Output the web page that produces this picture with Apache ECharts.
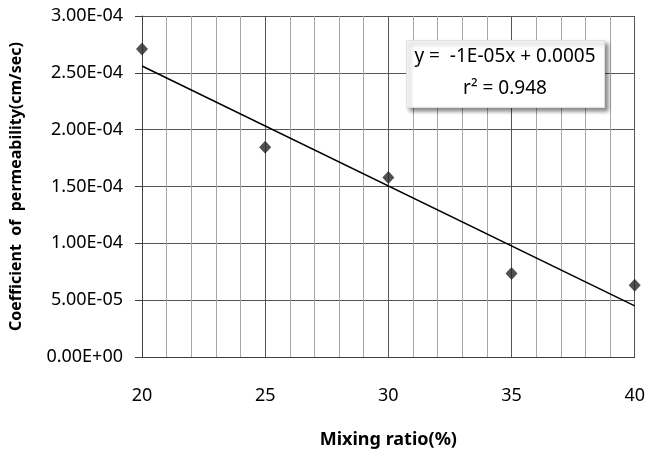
<!DOCTYPE html>
<html>
<head>
<meta charset="utf-8">
<script src="https://cdn.jsdelivr.net/npm/echarts@6/dist/echarts.min.js"></script>
<style>
  html, body { margin: 0; padding: 0; background: #fff; }
  #chart { width: 648px; height: 456px; }
</style>
</head>
<body>
<div id="chart"></div>
<script>
// mixing ratio (%) vs coefficient of permeability (cm/sec)
const ratios = [20, 25, 30, 35, 40];
const permeability = [2.71e-4, 1.846e-4, 1.58e-4, 7.34e-5, 6.31e-5];

// linear trend line
const trendX = [20, 40];
const trendY = [2.56e-4, 4.5e-5];

const eqText = "y =  -1E-05x + 0.0005";
const r2Text = "r² = 0.948";

const font = "'Noto Sans', sans-serif";

const fmtExp = (v) => {
  if (v === 0) return "0.00E+00";
  const [m, e] = v.toExponential(2).split("e");
  const n = parseInt(e, 10);
  const sign = n < 0 ? "-" : "+";
  return m + "E" + sign + String(Math.abs(n)).padStart(2, "0");
};

const chart = echarts.init(document.getElementById("chart"));

const option = {
  animation: false,
  grid: { left: 141, right: 11, top: 16, bottom: 99, containLabel: false },
  xAxis: {
    type: "value",
    min: 20,
    max: 40,
    interval: 5,
    name: "Mixing ratio(%)",
    nameLocation: "middle",
    nameGap: 74,
    nameTextStyle: { fontFamily: font, fontSize: 18, fontWeight: "bold", color: "#000" },
    axisLine: { show: true, lineStyle: { color: "#404040", width: 1 } },
    axisTick: { show: false },
    axisLabel: { fontFamily: font, fontSize: 18, color: "#000", margin: 30 },
    splitLine: { show: true, lineStyle: { color: "#555", width: 1 } },
    minorTick: { show: false, splitNumber: 5 },
    minorSplitLine: { show: true, lineStyle: { color: "#a6a6a6", width: 1 } },
  },
  yAxis: {
    type: "value",
    min: 0,
    max: 3e-4,
    interval: 5e-5,
    name: "Coefficient  of  permeability(cm/sec)",
    nameLocation: "middle",
    nameGap: 118,
    nameTextStyle: { fontFamily: font, fontSize: 16, fontWeight: "bold", color: "#000" },
    axisLine: { show: true, lineStyle: { color: "#404040", width: 1 } },
    axisTick: { show: true, inside: false, length: 7, lineStyle: { color: "#404040" } },
    axisLabel: { fontFamily: font, fontSize: 18, color: "#000", margin: 19, formatter: fmtExp },
    splitLine: { show: true, lineStyle: { color: "#555", width: 1 } },
  },
  series: [
    {
      name: "trend",
      type: "line",
      data: trendX.map((x, i) => [x, trendY[i]]),
      symbol: "none",
      lineStyle: { color: "#000", width: 1.5 },
      z: 3,
    },
    {
      name: "measured",
      type: "scatter",
      data: ratios.map((x, i) => [x, permeability[i]]),
      symbol: "diamond",
      symbolSize: [12, 13],
      itemStyle: { color: "#262626" },
      z: 4,
    },
  ],
  graphic: [
    {
      type: "rect",
      left: 406,
      top: 40,
      z: 100,
      shape: { width: 198, height: 67 },
      style: {
        fill: "#fff",
        stroke: "#e0e0e0",
        lineWidth: 1,
        shadowBlur: 4,
        shadowOffsetX: 3,
        shadowOffsetY: 3,
        shadowColor: "rgba(0,0,0,0.45)",
      },
    },
    {
      type: "text",
      x: 505,
      y: 57,
      z: 101,
      style: { text: eqText, fontFamily: font, fontSize: 19, fill: "#000", align: "center", verticalAlign: "middle" },
    },
    {
      type: "text",
      x: 505,
      y: 89,
      z: 101,
      style: { text: r2Text, fontFamily: font, fontSize: 19, fill: "#000", align: "center", verticalAlign: "middle" },
    },
  ],
};

chart.setOption(option);
</script>
</body>
</html>
